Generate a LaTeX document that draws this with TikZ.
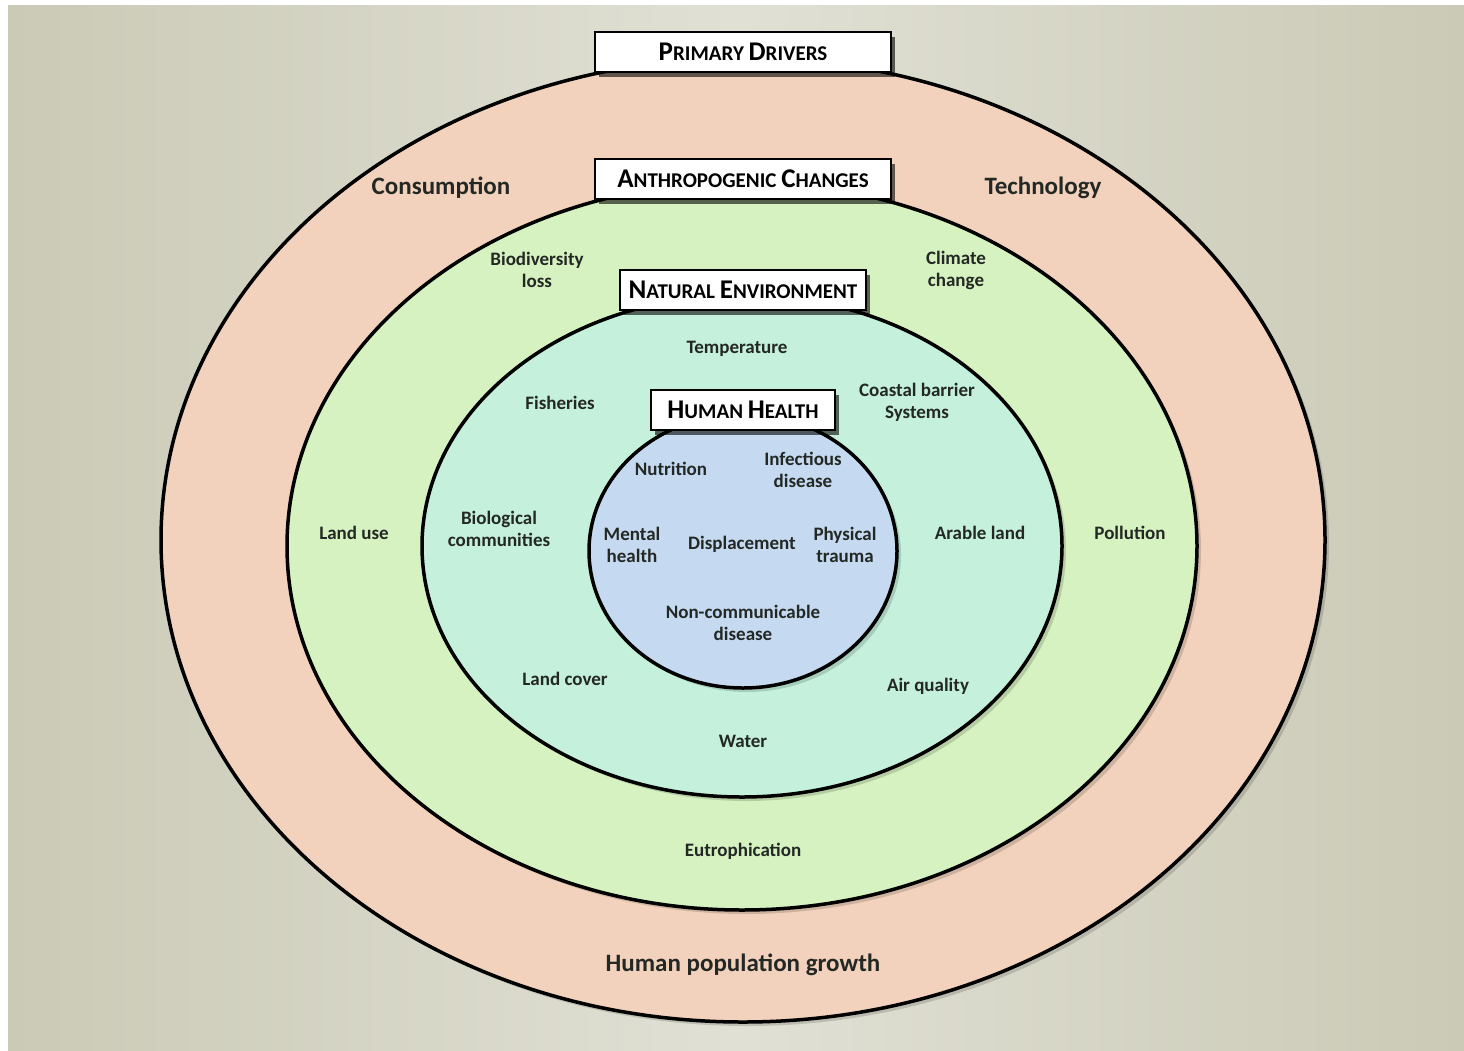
\documentclass[tikz,border=0pt]{standalone}
\usepackage{fontspec}
\setmainfont{Carlito}
\usetikzlibrary{shadows}
\definecolor{BgSide}{RGB}{203,202,182}
\definecolor{BgMid}{RGB}{224,224,213}
\definecolor{DriverPink}{RGB}{242,210,189}
\definecolor{ChangeGreen}{RGB}{214,242,193}
\definecolor{NatureTeal}{RGB}{196,240,220}
\definecolor{HealthBlue}{RGB}{197,218,240}
\definecolor{LabelInk}{RGB}{36,40,36}
\newcommand\initcap[1]{{\fontsize{27}{27}\selectfont #1}}
\tikzset{
  ring/.style={draw=black,line width=3.5pt,
    drop shadow={shadow xshift=4pt,shadow yshift=-4pt,fill=black,opacity=0.15}},
  ringtitle/.style={draw=black,fill=white,line width=2.5pt,minimum height=40,inner sep=0pt,
    font=\fontsize{21}{21}\selectfont\bfseries,
    drop shadow={shadow xshift=4pt,shadow yshift=-5pt,fill=black,opacity=0.6}},
  outerlabel/.style={text=LabelInk,font=\fontsize{25}{25}\selectfont\bfseries},
  innerlabel/.style={text=LabelInk,align=center,font=\fontsize{19}{22}\selectfont\bfseries}
}

\begin{document}
\begin{tikzpicture}[x=1pt,y=-1pt]
\useasboundingbox (0,0) rectangle (1464,1050);
\shade[left color=BgSide,right color=BgSide,middle color=BgMid] (8,5) rectangle (1464,1050);
% nested rings
\draw[ring,fill=DriverPink] (743,540) ellipse [x radius=582,y radius=482];
\draw[ring,fill=ChangeGreen] (742,546) ellipse [x radius=455,y radius=364];
\draw[ring,fill=NatureTeal] (742,546) ellipse [x radius=320,y radius=251];
\draw[ring,fill=HealthBlue] (743,551) ellipse [x radius=154,y radius=137];

% ring titles
\node[ringtitle,minimum width=296] (drivers) at (743,52) {\initcap{P}RIMARY \initcap{D}RIVERS};
\node[ringtitle,minimum width=296] (changes) at (743,179) {\initcap{A}NTHROPOGENIC \initcap{C}HANGES};
\node[ringtitle,minimum width=246] (nature) at (743,290) {\initcap{N}ATURAL \initcap{E}NVIRONMENT};
\node[ringtitle,minimum width=184] (health) at (743,410) {\initcap{H}UMAN \initcap{H}EALTH};

% primary drivers
\node[outerlabel] (consumption) at (441,188) {Consumption};
\node[outerlabel] (technology) at (1043,188) {Technology};
\node[outerlabel] (growth) at (743,965) {Human population growth};

% anthropogenic changes
\node[innerlabel] (biodiv) at (537,270) {Biodiversity\\loss};
\node[innerlabel] (climate) at (956,270) {Climate\\change};
\node[innerlabel] (landuse) at (354,533) {Land use};
\node[innerlabel] (pollution) at (1130,533) {Pollution};
\node[innerlabel] (eutroph) at (743,851) {Eutrophication};

% natural environment
\node[innerlabel] (temperature) at (737,349) {Temperature};
\node[innerlabel] (fisheries) at (560,403) {Fisheries};
\node[innerlabel] (coastal) at (917,402) {Coastal barrier\\Systems};
\node[innerlabel] (biocomm) at (499,529) {Biological\\communities};
\node[innerlabel] (arable) at (980,533) {Arable land};
\node[innerlabel] (landcover) at (565,679) {Land cover};
\node[innerlabel] (airquality) at (928,686) {Air quality};
\node[innerlabel] (water) at (743,741) {Water};

% human health
\node[innerlabel] (nutrition) at (671,469) {Nutrition};
\node[innerlabel] (infectious) at (803,470) {Infectious\\disease};
\node[innerlabel] (mental) at (632,545) {Mental\\health};
\node[innerlabel] (displacement) at (742,544) {Displacement};
\node[innerlabel] (trauma) at (845,545) {Physical\\trauma};
\node[innerlabel] (noncomm) at (743,623) {Non-communicable\\disease};
\end{tikzpicture}
\end{document}
